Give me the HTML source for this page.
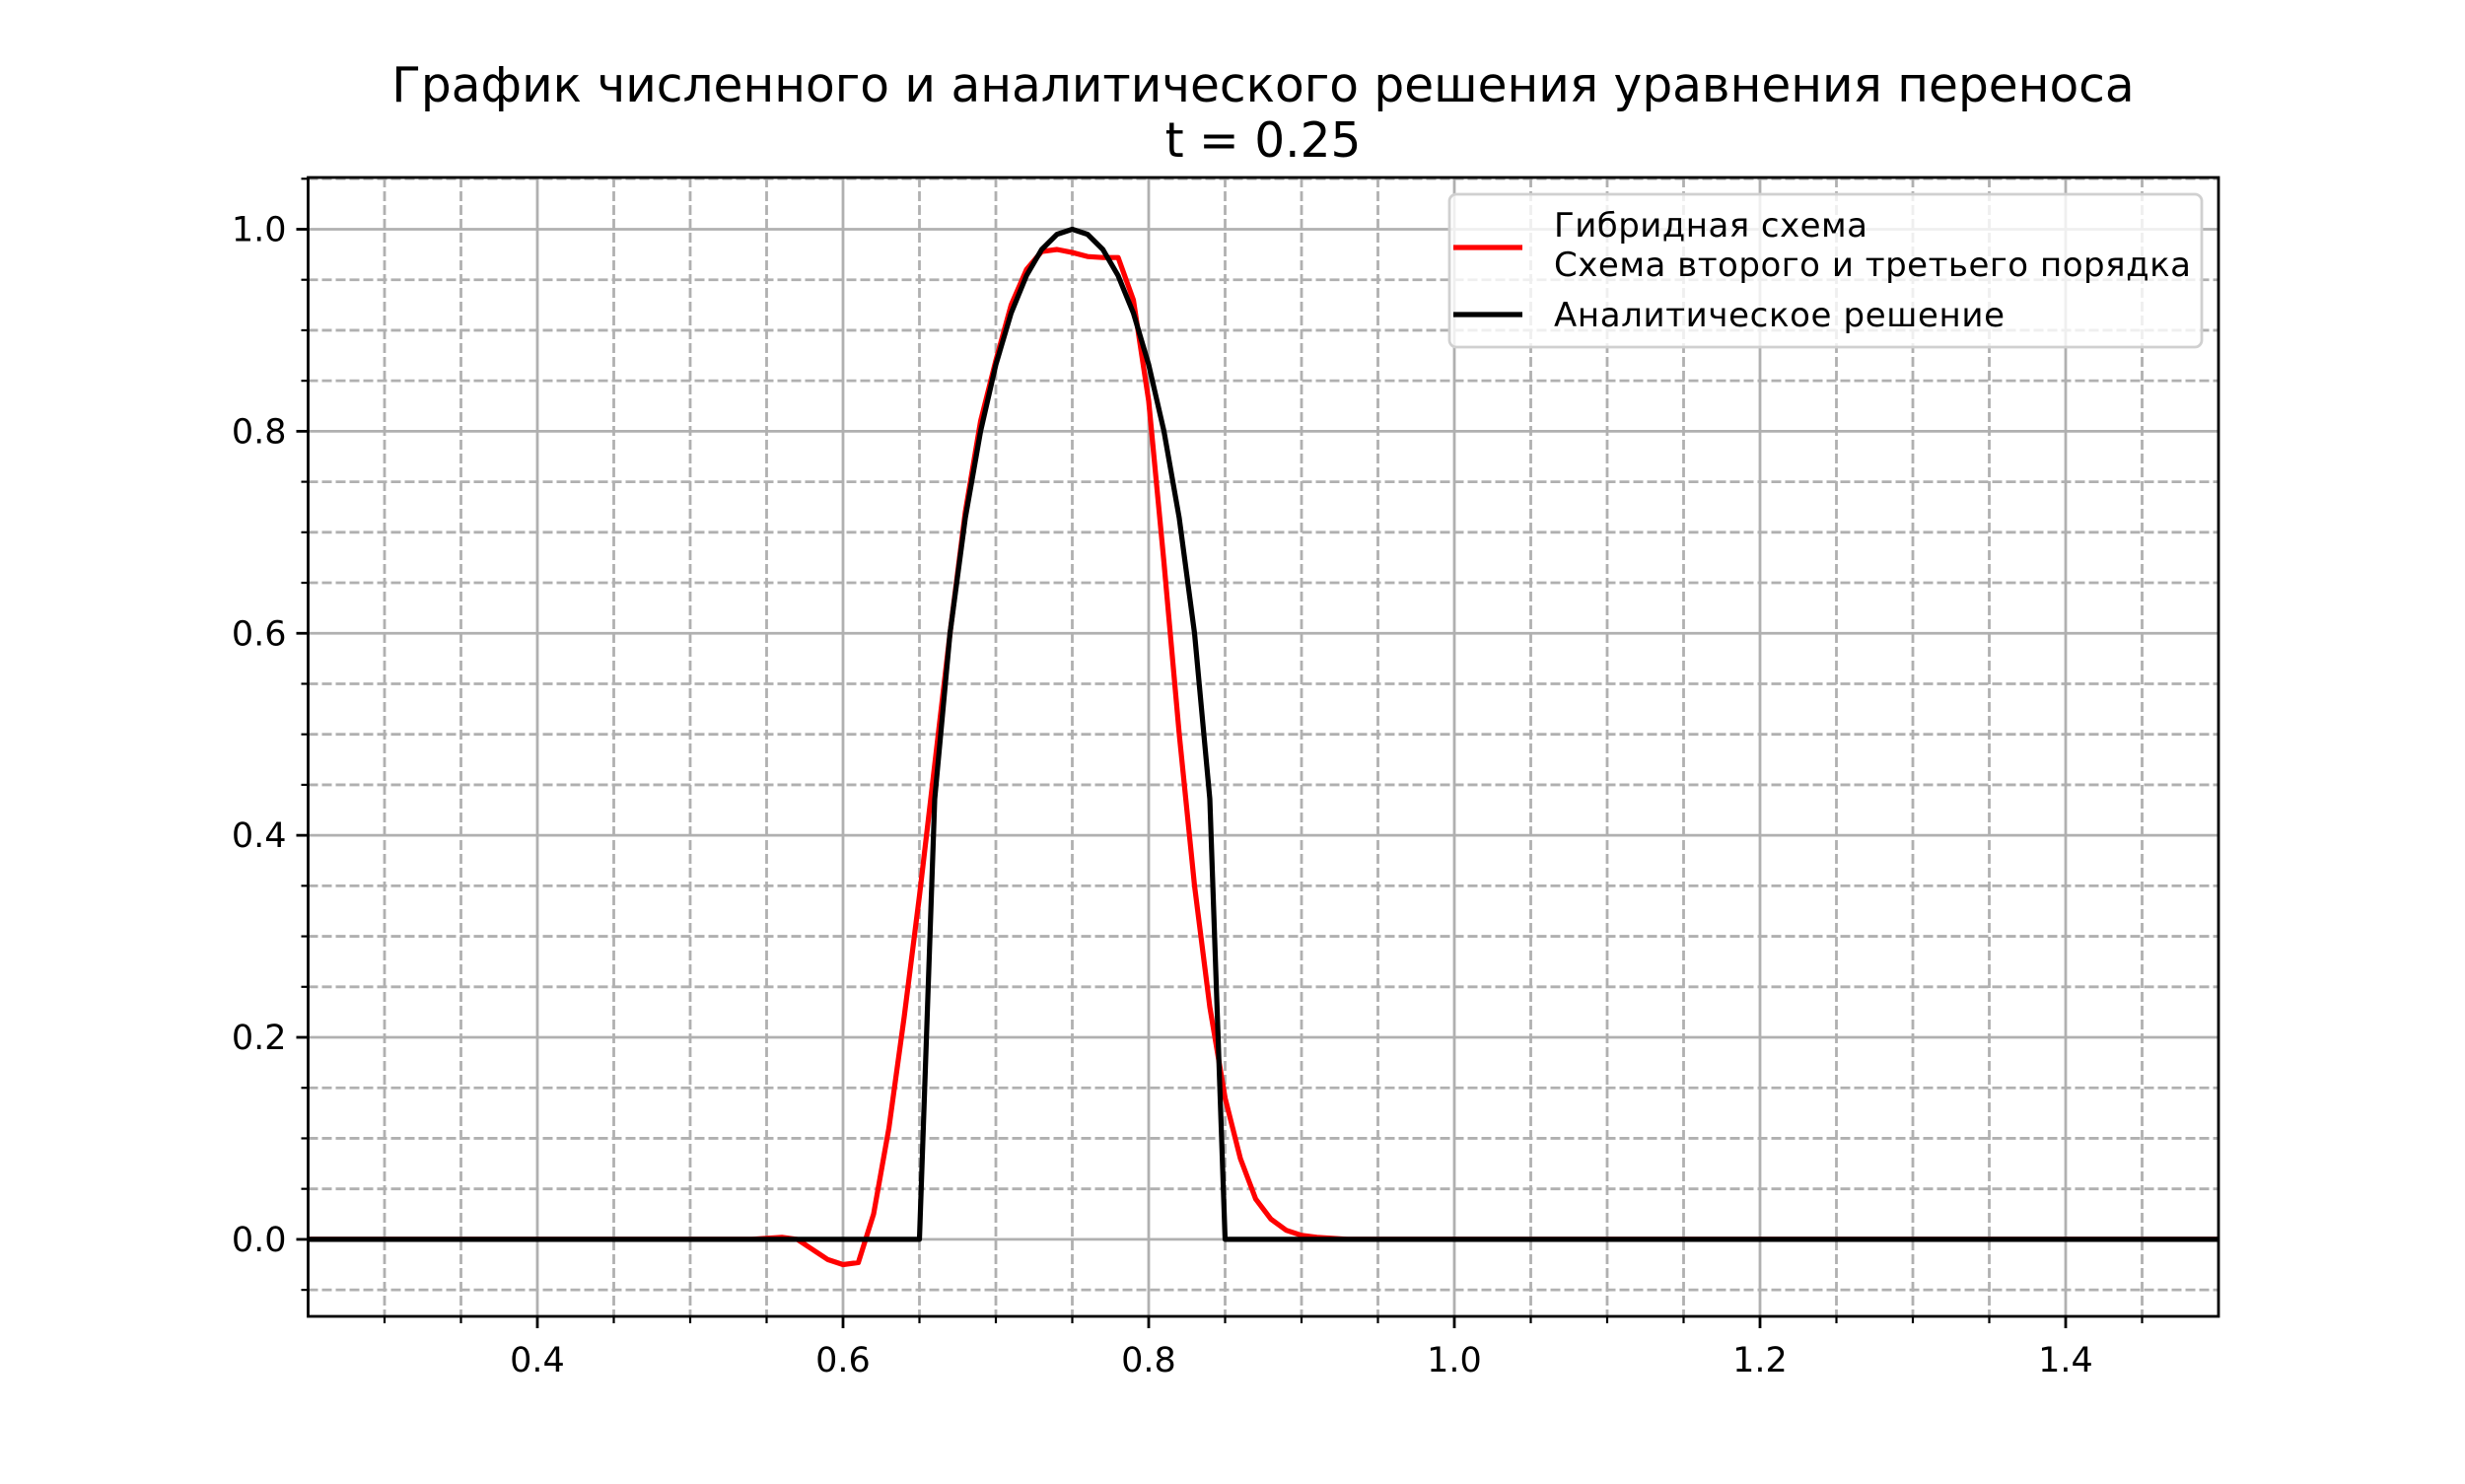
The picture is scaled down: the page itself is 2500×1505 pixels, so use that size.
<!DOCTYPE html>
<html><head><meta charset="utf-8"><style>
html,body{margin:0;padding:0;background:#fff;}
svg text{font-family:"DejaVu Sans","Liberation Sans",sans-serif;}
</style></head><body>
<svg id="chart" width="2500" height="1500" viewBox="0 0 2500 1500" xmlns="http://www.w3.org/2000/svg">
<rect width="2500" height="1500" fill="#fff"/>
<text x="1281" y="103" font-size="48.6" text-anchor="middle">График численного и аналитического решения уравнения переноса</text>
<text x="1281" y="159" font-size="48.6" text-anchor="middle">t = 0.25</text>
<g id="grid"></g><g id="series"></g><g id="axes"></g><g id="legend"></g>
</svg>
<script>
const xTicks=[0.4,0.6,0.8,1.0,1.2,1.4];
const xTickLabels=["0.4","0.6","0.8","1.0","1.2","1.4"];
const yTicks=[0.0,0.2,0.4,0.6,0.8,1.0];
const yTickLabels=["0.0","0.2","0.4","0.6","0.8","1.0"];
const analyticX=[0.25,0.65,0.66,0.67,0.68,0.69,0.70,0.71,0.72,0.73,0.74,0.75,0.76,0.77,0.78,0.79,0.80,0.81,0.82,0.83,0.84,0.85,1.5];
const analyticY=[0,0,0.436,0.6,0.714,0.8,0.866,0.917,0.954,0.98,0.995,1.0,0.995,0.98,0.954,0.917,0.866,0.8,0.714,0.6,0.436,0,0];
const hybridX=[0.25,0.54,0.55,0.56,0.57,0.58,0.59,0.60,0.61,0.62,0.63,0.64,0.65,0.66,0.67,0.68,0.69,0.70,0.71,0.72,0.73,0.74,0.75,0.76,0.77,0.78,0.79,0.80,0.81,0.82,0.83,0.84,0.85,0.86,0.87,0.88,0.89,0.90,0.91,0.92,0.93,1.5];
const hybridY=[0,0,0.001,0.002,0,-0.01,-0.02,-0.025,-0.023,0.025,0.11,0.22,0.34,0.47,0.6,0.72,0.81,0.87,0.925,0.96,0.978,0.98,0.977,0.973,0.972,0.972,0.93,0.83,0.67,0.5,0.35,0.23,0.14,0.08,0.04,0.02,0.009,0.004,0.002,0.001,0,0];
const X0=312.5,X1=2250,Y0=180,Y1=1335;
const xmin=0.25,xmax=1.5,ymin=-0.07625,ymax=1.05125;
const sx=v=>X0+(v-xmin)/(xmax-xmin)*(X1-X0);
const sy=v=>Y1-(v-ymin)/(ymax-ymin)*(Y1-Y0);
const NS="http://www.w3.org/2000/svg";
function mk(tag,attrs,parent){const e=document.createElementNS(NS,tag);for(const k in attrs)e.setAttribute(k,attrs[k]);parent.appendChild(e);return e;}
const grid=document.getElementById('grid'),axes=document.getElementById('axes'),series=document.getElementById('series'),legend=document.getElementById('legend');
for(let i=6;i<=29;i++){const v=i*0.05;if(i%4===0)continue;const x=sx(v);
 const l=mk('line',{x1:x,x2:x,y1:Y0,y2:Y1,stroke:'#b0b0b0','stroke-width':2.8,'stroke-dasharray':'10 4'},grid);
 
 
 const t=mk('line',{x1:x,x2:x,y1:Y1,y2:Y1+7,stroke:'#000','stroke-width':2.2},axes);
 
 }
for(let i=-1;i<=21;i++){if(i%4===0)continue;const v=i*0.05;const y=sy(v);
 const l=mk('line',{x1:X0,x2:X1,y1:y,y2:y,stroke:'#b0b0b0','stroke-width':2.8,'stroke-dasharray':'10 4'},grid);
 
 
 const t=mk('line',{x1:X0-7,x2:X0,y1:y,y2:y,stroke:'#000','stroke-width':2.2},axes);
 
 }
xTicks.forEach((v,i)=>{const x=sx(v);
 const l=mk('line',{x1:x,x2:x,y1:Y0,y2:Y1,stroke:'#b0b0b0','stroke-width':2.8},grid);
 
 
 const t=mk('line',{x1:x,x2:x,y1:Y1,y2:Y1+12,stroke:'#000','stroke-width':2.8},axes);
 
 
 const tx=mk('text',{x:x,y:Y1+56,'font-size':35,'text-anchor':'middle'},axes);tx.textContent=xTickLabels[i];
 
 });
yTicks.forEach((v,i)=>{const y=sy(v);
 const l=mk('line',{x1:X0,x2:X1,y1:y,y2:y,stroke:'#b0b0b0','stroke-width':2.8},grid);
 
 
 const t=mk('line',{x1:X0-12,x2:X0,y1:y,y2:y,stroke:'#000','stroke-width':2.8},axes);
 
 
 const tx=mk('text',{x:X0-22,y:y+12,'font-size':35,'text-anchor':'end'},axes);tx.textContent=yTickLabels[i];
 
 });
const frame=mk('rect',{x:X0,y:Y0,width:X1-X0,height:Y1-Y0,fill:'none',stroke:'#000','stroke-width':2.8},axes);


function pts(xs,ys){return xs.map((v,i)=>sx(v).toFixed(2)+','+sy(ys[i]).toFixed(2)).join(' ');}
const r=mk('polyline',{points:pts(hybridX,hybridY),fill:'none',stroke:'#ff0000','stroke-width':5.2,'stroke-linejoin':'round'},series);


const b=mk('polyline',{points:pts(analyticX,analyticY),fill:'none',stroke:'#000','stroke-width':5.2,'stroke-linejoin':'round'},series);


const lb=mk('rect',{x:1470,y:197,width:763,height:155,rx:7,fill:'#fff','fill-opacity':0.8,stroke:'#d0d0d0','stroke-width':2.8},legend);


const l1=mk('line',{x1:1474,x2:1544,y1:251,y2:251,stroke:'#ff0000','stroke-width':5.2},legend);


const t1=mk('text',{x:1576,y:240,'font-size':34,textLength:318},legend);t1.textContent='Гибридная схема';


const t2=mk('text',{x:1576,y:280,'font-size':34,textLength:646},legend);t2.textContent='Схема второго и третьего порядка';


const l2=mk('line',{x1:1474,x2:1544,y1:319,y2:319,stroke:'#000','stroke-width':5.2},legend);


const t3=mk('text',{x:1576,y:331,'font-size':34,textLength:457},legend);t3.textContent='Аналитическое решение';


</script>
</body></html>
